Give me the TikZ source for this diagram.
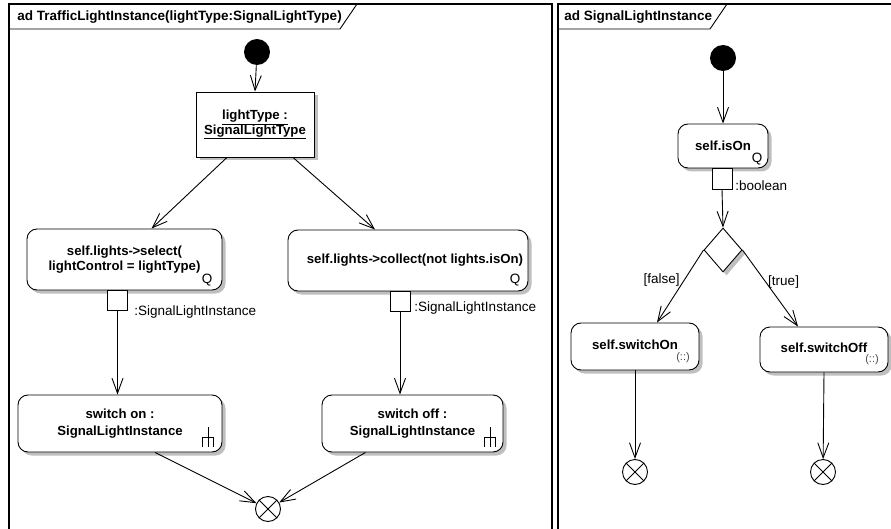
\documentclass[tikz,border=0pt]{standalone}
\usepackage{fontspec}
\setmainfont{Liberation Sans}
\usetikzlibrary{arrows.meta,shapes.geometric,shadows,calc}

\tikzset{
  flow/.style={-{Straight Barb[length=15pt,width=11pt,line width=0.9pt]}},
  shade/.style={drop shadow={shadow xshift=3.5pt,shadow yshift=-3.5pt,fill=black!25,opacity=1}},
  actionbox/.style={draw, rounded corners=10pt, fill=white, shade, inner sep=0pt, align=center,
    font=\fontsize{13.2}{15}\selectfont\bfseries},
  objbox/.style={draw, fill=white, shade, inner sep=0pt, align=center, font=\fontsize{13.2}{14.5}\selectfont\bfseries},
  pinbox/.style={draw, fill=white, minimum size=20pt, inner sep=0pt},
  plain/.style={inner sep=0pt, font=\fontsize{13.5}{15}\selectfont},
  tagtext/.style={inner sep=0pt, text=black!70, font=\fontsize{11}{12}\selectfont},
  startdot/.style={circle, fill=black, minimum size=26pt, inner sep=0pt},
  endmark/.style={circle, draw, fill=white, minimum size=25pt, inner sep=0pt,
    path picture={\draw (path picture bounding box.north west) -- (path picture bounding box.south east)
                        (path picture bounding box.north east) -- (path picture bounding box.south west);}},
  choice/.style={diamond, draw, fill=white, shade, minimum width=38pt, minimum height=44pt, inner sep=0pt},
  frametitle/.style={anchor=west, inner sep=0pt, font=\fontsize{13.5}{15}\selectfont\bfseries},
  rake/.pic={\draw[line width=0.8pt] (0,-10) -- (0,10) (-5.5,0) -- (5.5,0)
                   (-5.5,0) -- (-5.5,10) (5.5,0) -- (5.5,10);}
}

\begin{document}
\begin{tikzpicture}[x=1pt,y=-1pt,line width=0.9pt]
\useasboundingbox (0,0) rectangle (891,529);

% ---------------- frames ----------------
\draw[line width=1.3pt] (9,529) -- (9,4) -- (552,4) -- (552,529);
\draw (9,29) -- (340,29) -- (357,4);
\node[frametitle] (title1) at (17,17) {ad TrafficLightInstance(lightType:SignalLightType)};

\draw[line width=1.3pt] (558,529) -- (558,4) -- (891,4);
\draw (558,29) -- (710,29) -- (727,4);
\node[frametitle] (title2) at (564,17) {ad SignalLightInstance};

% ---------------- TrafficLightInstance ----------------
\node[startdot] (init1) at (257,52) {};
\node[objbox, minimum width=118pt, minimum height=65pt] (obj) at (255,124.5)
  {\underline{lightType :}\\\underline{SignalLightType}};

\node[actionbox, minimum width=195pt, minimum height=61pt] (sel) at (124.5,259.5)
  {\raisebox{2pt}{self.lights-\kern-0.5pt>select(}\\\raisebox{2pt}{lightControl = lightType)}};
\node[plain] (selQ) at (207,280) {Q};
\node[pinbox] (selpin) at (117.5,300) {};
\node[plain, anchor=west] (selpinlbl) at (134,312) {:SignalLightInstance};

\node[actionbox, minimum width=240pt, minimum height=61pt] (col) at (408,260.5)
  {\hspace*{14pt}\raisebox{2pt}{self.lights-\kern-0.5pt>collect(not lights.isOn)}};
\node[plain] (colQ) at (515,280) {Q};
\node[pinbox] (colpin) at (400,301) {};
\node[plain, anchor=west] (colpinlbl) at (414,308) {:SignalLightInstance};

\node[actionbox, minimum width=204pt, minimum height=57pt, font=\fontsize{13.2}{17}\selectfont\bfseries] (son) at (120,423.5)
  {\raisebox{2pt}{switch on :}\\\raisebox{2pt}{SignalLightInstance}};
\pic at (208,437) {rake};
\node[actionbox, minimum width=181pt, minimum height=57pt, font=\fontsize{13.2}{17}\selectfont\bfseries] (soff) at (412.5,423.5)
  {\raisebox{2pt}{switch off :}\\\raisebox{2pt}{SignalLightInstance}};
\pic at (490,437) {rake};

\node[endmark] (fin1) at (268,509) {};

\draw[flow] (init1) -- (obj.north);
\draw[flow] ([xshift=-28pt]obj.south) -- ([xshift=27pt]sel.north);
\draw[flow] ([xshift=38pt]obj.south) -- ([xshift=-33pt]col.north);
\draw[flow] (selpin.south) -- (selpin.south |- son.north);
\draw[flow] (colpin.south) -- (colpin.south |- soff.north);
\draw[flow] ([xshift=35pt]son.south) -- (fin1);
\draw[flow] ([xshift=-47pt]soff.south) -- (fin1);

% ---------------- SignalLightInstance ----------------
\node[startdot] (init2) at (723,58) {};
\node[actionbox, minimum width=90pt, minimum height=44pt] (ison) at (723,146) {\raisebox{1pt}{self.isOn}};
\node[plain] (isonQ) at (757,159) {Q};
\node[pinbox, minimum height=21pt] (isonpin) at (722,178.5) {};
\node[plain, anchor=west] (boollbl) at (735,186) {:boolean};

\node[choice] (dec) at (723,250) {};

\node[actionbox, minimum width=128pt, minimum height=47pt] (sw1) at (635,346.5)
  {\raisebox{4pt}{self.switchOn}};
\node[tagtext] (sw1tag) at (683,358) {(::)};
\node[actionbox, minimum width=128pt, minimum height=45pt] (sw2) at (824,349.5)
  {\raisebox{4pt}{self.switchOff}};
\node[tagtext] (sw2tag) at (872,360) {(::)};

\node[endmark] (fin2) at (635,472) {};
\node[endmark] (fin3) at (823,472) {};

\draw[flow] (init2) -- (ison.north);
\draw[flow] (isonpin.south) -- (dec.north);
\draw[flow] (dec.west) -- node[plain, pos=0.42, left=4pt] (falselbl) {[false]} ([xshift=22pt]sw1.north);
\draw[flow] (dec.east) -- node[plain, pos=0.42, right=2pt] (truelbl) {[true]} ([xshift=-26pt]sw2.north);
\draw[flow] (sw1.south) -- (fin2);
\draw[flow] (sw2.south) -- (fin3);
\end{tikzpicture}
\end{document}
